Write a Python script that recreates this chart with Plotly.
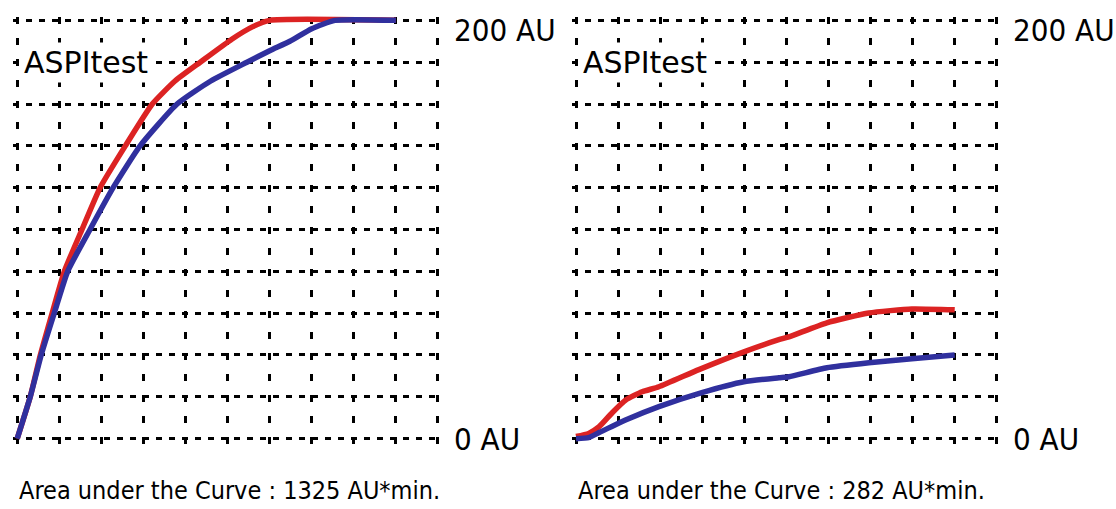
import plotly.graph_objects as go
from plotly.subplots import make_subplots

# ASPItest aggregation curves (time in grid units, aggregation in AU, clipped at 200 AU)
left_red_t = [0, 0.31, 0.55, 0.83, 1.12, 1.54, 1.97, 2.57, 3.21, 3.75, 4.35, 5.1, 5.6, 6.0, 9.0]
left_red_v = [0, 20, 40, 60, 80, 100, 120, 140, 160, 171, 180, 191, 197, 200, 200]
left_blue_t = [0, 0.31, 0.57, 0.88, 1.2, 1.73, 2.28, 2.92, 3.8, 4.6, 5.46, 6.0, 6.48, 7.0, 7.55, 9.0]
left_blue_v = [0, 20, 40, 60, 80, 100, 120, 140, 160, 171, 180, 185.5, 190, 196, 200, 200]

right_red_t = [0, 0.3, 0.55, 0.86, 1.19, 1.57, 1.97, 2.92, 3.99, 4.82, 5.06, 5.96, 6.96, 7.98, 9.0]
right_red_v = [1, 2.5, 5.7, 12.4, 18.6, 22.4, 24.8, 33.0, 41.5, 47.3, 48.7, 55.4, 60.1, 62.0, 61.6]
right_blue_t = [0, 0.3, 0.55, 1.19, 1.97, 2.99, 3.99, 4.82, 5.06, 5.96, 6.96, 7.98, 9.0]
right_blue_v = [0, 0.5, 2.9, 9.0, 15.3, 22.0, 27.2, 29.1, 29.6, 33.9, 36.3, 38.2, 40.0]

panel_title = "ASPItest"
top_label = "200 AU"
bottom_label = "0 AU"
auc_labels = ["Area under the Curve : 1325 AU*min.", "Area under the Curve : 282 AU*min."]

RED = "#dc2323"
BLUE = "#30309e"
NARROW = "DejaVu Sans Condensed, Liberation Sans Narrow, sans-serif"
REGULAR = "DejaVu Sans, sans-serif"

fig = make_subplots(rows=1, cols=2, horizontal_spacing=0.1312)

panels = [
    (left_red_t, left_red_v, left_blue_t, left_blue_v),
    (right_red_t, right_red_v, right_blue_t, right_blue_v),
]
for i, (rt, rv, bt, bv) in enumerate(panels, start=1):
    fig.add_trace(go.Scatter(x=rt, y=rv, mode="lines",
                             line=dict(color=RED, width=5.5, shape="spline", smoothing=0.5),
                             showlegend=False), row=1, col=i)
    fig.add_trace(go.Scatter(x=bt, y=bv, mode="lines",
                             line=dict(color=BLUE, width=5.5, shape="spline", smoothing=0.5),
                             showlegend=False), row=1, col=i)

for i in (1, 2):
    # vertical grid: dashes centred on each horizontal grid line and halfway between
    fig.update_xaxes(range=[-0.1, 10.1], tick0=0, dtick=1, showgrid=True,
                     gridcolor="black", gridwidth=3, griddash="0px,5px,7px,9px",
                     zeroline=False, showticklabels=False, ticks="",
                     showline=False, row=1, col=i)
    fig.update_yaxes(range=[-4, 204], tick0=0, dtick=20, showgrid=True,
                     gridcolor="black", gridwidth=3, griddash="6px,7px",
                     zeroline=False, showticklabels=False, ticks="",
                     showline=False, row=1, col=i)

annotations = []
for i, xr, yr in ((0, "x", "y"), (1, "x2", "y2")):
    annotations.append(dict(xref=xr, yref=yr, x=0, y=180, text=panel_title,
                            xanchor="left", yanchor="middle", xshift=4, showarrow=False,
                            bgcolor="white", borderpad=2,
                            font=dict(family=REGULAR, size=30, color="black")))
    annotations.append(dict(xref=xr, yref=yr, x=10, y=200, text=top_label,
                            xanchor="left", yanchor="middle", xshift=14, yshift=-10,
                            showarrow=False, font=dict(family=NARROW, size=31, color="black")))
    annotations.append(dict(xref=xr, yref=yr, x=10, y=0, text=bottom_label,
                            xanchor="left", yanchor="middle", xshift=14, yshift=0,
                            showarrow=False, font=dict(family=NARROW, size=31, color="black")))
    annotations.append(dict(xref=xr, yref=yr, x=0, y=0, text=auc_labels[i],
                            xanchor="left", yanchor="middle", xshift=0, yshift=-52,
                            showarrow=False, font=dict(family=NARROW, size=25, color="black")))

fig.update_layout(
    width=1116, height=509,
    margin=dict(l=13, r=115, t=12, b=62),
    paper_bgcolor="white", plot_bgcolor="white",
    annotations=annotations,
)

fig.write_html("out.html")
